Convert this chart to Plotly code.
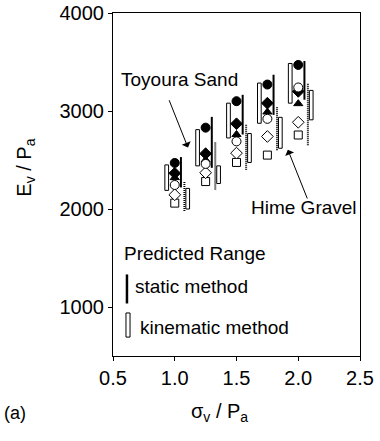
import plotly.graph_objects as go

# ---- data ----
stress = [1.0, 1.25, 1.5, 1.75, 2.0]
filled_circle = [2470, 2830, 3100, 3270, 3470]
filled_diamond = [2365, 2565, 2870, 3080, 3200]
filled_triangle = [2320, 2500, 2760, 2990, 3075]
open_circle = [2245, 2460, 2690, 2920, 3240]
open_diamond = [2145, 2370, 2570, 2740, 2885]
open_square = [2060, 2280, 2475, 2550, 2755]

toyoura_kin_low = [2190, 2440, 2725, 2875, 3080]
toyoura_kin_high = [2450, 2810, 3080, 3285, 3485]
toyoura_static_low = [2220, 2420, 2760, 2960, 3115]
toyoura_static_high = [2530, 2940, 3165, 3370, 3510]
hime_static_low = [1980, 2200, 2400, 2600, 2650]
hime_static_high = [2280, 2680, 2860, 3045, 3285]
hime_kin_low = [2000, 2260, 2475, 2620, 2910]
hime_kin_high = [2210, 2440, 2770, 2935, 3210]

x_ticks = [0.5, 1.0, 1.5, 2.0, 2.5]
y_ticks = [1000, 2000, 3000, 4000]

FONT = "Liberation Sans, Arial, Helvetica, sans-serif"
OFF_TK, OFF_TS, OFF_HS, OFF_HK = -0.065, 0.05, 0.078, 0.105

fig = go.Figure()

def vlines(offset, lows, highs, dash, width):
    xs, ys = [], []
    for s, lo, hi in zip(stress, lows, highs):
        xs += [s + offset, s + offset, None]
        ys += [lo, hi, None]
    fig.add_trace(go.Scatter(x=xs, y=ys, mode="lines",
                             line=dict(color="black", width=width, dash=dash),
                             showlegend=False, hoverinfo="skip"))

def rects(offset, lows, highs):
    fig.add_trace(go.Bar(x=[s + offset for s in stress],
                         y=[h - l for l, h in zip(lows, highs)],
                         base=lows, width=0.03,
                         marker=dict(color="white", line=dict(color="black", width=1)),
                         showlegend=False, hoverinfo="skip"))

rects(OFF_TK, toyoura_kin_low, toyoura_kin_high)
rects(OFF_HK, hime_kin_low, hime_kin_high)
vlines(OFF_TS, toyoura_static_low, toyoura_static_high, "solid", 2)
vlines(OFF_HS, hime_static_low, hime_static_high, "1px,1px", 2)

def markers(vals, symbol, fill, size):
    fig.add_trace(go.Scatter(x=stress, y=vals, mode="markers",
                             marker=dict(symbol=symbol, size=size, color=fill,
                                         line=dict(color="black", width=1)),
                             showlegend=False))

markers(filled_triangle, "triangle-up", "black", 8)
markers(filled_diamond, "diamond", "black", 9)
markers(filled_circle, "circle", "black", 9)
markers(open_square, "square", "white", 8)
markers(open_diamond, "diamond", "white", 9)
markers(open_circle, "circle", "white", 9)

# legend glyphs
fig.add_shape(type="line", xref="x", yref="y", x0=0.613, x1=0.613, y0=1036, y1=1332,
              line=dict(color="black", width=2.5))
fig.add_shape(type="rect", xref="x", yref="y", x0=0.605, x1=0.638, y0=693, y1=939,
              line=dict(color="black", width=1), fillcolor="white")

ann = []
def txt(x, y, s, size=19, xanchor="left", xref="x", yref="y", angle=0):
    ann.append(dict(x=x, y=y, xref=xref, yref=yref, text=s, showarrow=False,
                    xanchor=xanchor, yanchor="middle", textangle=angle,
                    font=dict(family=FONT, size=size, color="black")))

txt(0.545, 3325, "Toyoura Sand")
txt(1.6, 2015, "Hime Gravel")
txt(0.575, 1547, "Predicted Range")
txt(0.66, 1212, "static method")
txt(0.70, 793, "kinematic method")

txt(0.43, -0.165, "σ<sub>v</sub> / P<sub>a</sub>", size=20, xanchor="center",
    xref="paper", yref="paper")
txt(-0.355, 0.55, "E<sub>v</sub> / P<sub>a</sub>", size=20, xanchor="center",
    xref="paper", yref="paper", angle=-90)
txt(-0.45, -0.165, "(a)", size=18, xref="paper", yref="paper")

for (hx, hy, tx, ty) in [(1.107, 2627, 0.95, 3125), (1.916, 2604, 2.078, 2092)]:
    ann.append(dict(x=hx, y=hy, ax=tx, ay=ty, xref="x", yref="y", axref="x", ayref="y",
                    text="", showarrow=True, arrowhead=1, arrowsize=1.6,
                    arrowwidth=1, arrowcolor="black"))

fig.update_layout(
    width=380, height=441,
    margin=dict(l=113, r=20, t=13, b=85),
    paper_bgcolor="white", plot_bgcolor="white",
    barmode="overlay", showlegend=False,
    annotations=ann,
    font=dict(family=FONT, size=20, color="black"),
    xaxis=dict(range=[0.5, 2.5], tickvals=x_ticks, ticktext=[f"{v:.1f}" for v in x_ticks],
               showgrid=False, zeroline=False, showline=True, linecolor="black",
               linewidth=1, mirror=True, ticks="outside", ticklen=4, automargin=False,
               tickcolor="black", tickfont=dict(family=FONT, size=20)),
    yaxis=dict(range=[500, 4000], tickvals=y_ticks, showgrid=False, zeroline=False,
               showline=True, linecolor="black", linewidth=1, mirror=True, automargin=False,
               ticks="outside", ticklen=4, tickcolor="black",
               tickfont=dict(family=FONT, size=20)),
)

fig.write_html("out.html")
